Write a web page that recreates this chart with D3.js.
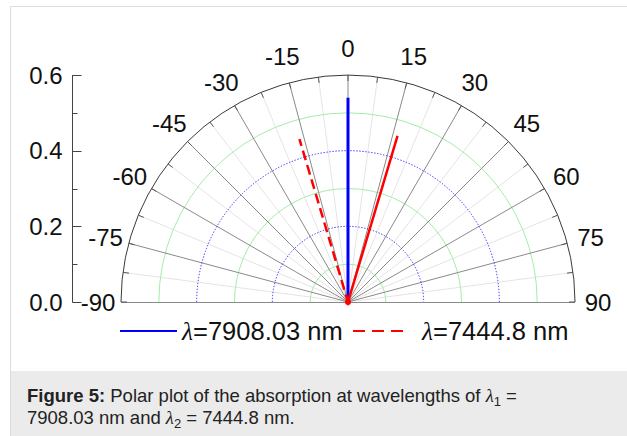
<!DOCTYPE html>
<html><head><meta charset="utf-8">
<script src="https://cdn.jsdelivr.net/npm/d3@7"></script>
<style>
html,body{margin:0;padding:0;background:#fff;}
svg{display:block;}
</style></head>
<body>
<svg id="chart" width="627" height="436"></svg>
<script>
// ---- data ----
const angleTicks = [-90,-75,-60,-45,-30,-15,0,15,30,45,60,75,90];
const minorAngles = [-82.5,-67.5,-52.5,-37.5,-22.5,-7.5,7.5,22.5,37.5,52.5,67.5,82.5];
const radialTicks = [0.0,0.2,0.4,0.6];
const radialMinor = [0.1,0.3,0.5];
const radialMajorGrid = [0.2,0.4];
const blueAngles = [0, 0];
const blueValues = [0, 0.54];
const redAngles = [-16.6, 0, 16.6, 15.9];
const redValues = [0.449, 0, 0.458, 0];
const legendLabels = ["7908.03 nm", "7444.8 nm"];
const captionBold = "Figure 5:";
const captionLine1 = " Polar plot of the absorption at wavelengths of ";
const captionLine2a = "7908.03 nm and ";
const captionLine2b = " = 7444.8 nm.";

const svg = d3.select("#chart");
const W = 627, H = 436;
const cx = 348, cy = 302, R = 227;
const font = "'Liberation Sans', Arial, Helvetica, sans-serif";
const serif = "'Liberation Serif', 'Times New Roman', serif";

// frame
svg.append("rect").attr("x",0).attr("y",0).attr("width",W).attr("height",H).attr("fill","#fff");
svg.append("rect").attr("x",10.5).attr("y",6.5).attr("width",W).attr("height",H).attr("fill","#fff").attr("stroke","#dcdcdc");
svg.append("rect").attr("x",11).attr("y",371).attr("width",W-11).attr("height",H-371).attr("fill","#ebebeb");

const r = d3.scaleLinear().domain([0,0.6]).range([0,R]);
const a = d3.scaleLinear().domain([-90,90]).range([-Math.PI/2, Math.PI/2]);
const g = svg.append("g").attr("transform",`translate(${cx},${cy})`);

const halfCircle = rr => `M${-rr},0A${rr},${rr} 0 0 1 ${rr},0`;

// minor radial lines
g.selectAll(".minr").data(minorAngles).join("line")
  .attr("x1",0).attr("y1",0)
  .attr("x2",d=>r(0.6)*Math.sin(a(d))).attr("y2",d=>-r(0.6)*Math.cos(a(d)))
  .attr("stroke","#e4e4e4").attr("stroke-width",1);
// green minor circles
g.selectAll(".gc").data(radialMinor).join("path")
  .attr("d",d=>halfCircle(r(d)))
  .attr("fill","none").attr("stroke","#a6eca6").attr("stroke-width",1);
// major radial lines
g.selectAll(".majr").data(angleTicks.filter(d=>Math.abs(d)<90)).join("line")
  .attr("x1",0).attr("y1",0)
  .attr("x2",d=>r(0.6)*Math.sin(a(d))).attr("y2",d=>-r(0.6)*Math.cos(a(d)))
  .attr("stroke","#8a8a8a").attr("stroke-width",1);
// blue dotted circles
g.selectAll(".bc").data(radialMajorGrid).join("path")
  .attr("d",d=>halfCircle(r(d)))
  .attr("fill","none").attr("stroke","#2a2aff").attr("stroke-width",1).attr("stroke-dasharray","1.3,1.7");
// baseline
g.append("line").attr("x1",-r(0.6)).attr("x2",r(0.6)).attr("y1",0.5).attr("y2",0.5)
  .attr("stroke","#8a8a8a").attr("stroke-width",1.2);
// outer arc
g.append("path").attr("d",halfCircle(R))
  .attr("fill","none").attr("stroke","#3a3a3a").attr("stroke-width",1);
// outer ticks
g.selectAll(".otk").data(minorAngles.concat(angleTicks)).join("line")
  .attr("x1",d=>(R-6)*Math.sin(a(d))).attr("y1",d=>-(R-6)*Math.cos(a(d)))
  .attr("x2",d=>R*Math.sin(a(d))).attr("y2",d=>-R*Math.cos(a(d)))
  .attr("stroke","#555").attr("stroke-width",1);

// angle labels
const labR = d => 250 + 4*Math.abs(Math.cos(a(d)));
g.selectAll(".al").data(angleTicks).join("text")
  .attr("x",d=>labR(d)*Math.sin(a(d))).attr("y",d=>-labR(d)*Math.cos(a(d)))
  .attr("text-anchor","middle").attr("dy","0.36em")
  .attr("font-family",font).attr("font-size",24).attr("fill","#111")
  .text(d=>d);

// radial y axis on left
const yScale = d3.scaleLinear().domain([0,0.6]).range([cy, cy-R]);
const yAxisG = svg.append("g").attr("transform","translate(72.5,0)");
yAxisG.append("line").attr("x1",0).attr("x2",0).attr("y1",yScale(0)+0.5).attr("y2",yScale(0.6)).attr("stroke","#444");
yAxisG.selectAll(".yt").data(radialTicks).join("line")
  .attr("x1",0).attr("x2",9).attr("y1",d=>Math.round(yScale(d))+0.5).attr("y2",d=>Math.round(yScale(d))+0.5).attr("stroke","#444");
yAxisG.selectAll(".ytm").data(radialMinor).join("line")
  .attr("x1",0).attr("x2",5).attr("y1",d=>Math.round(yScale(d))+0.5).attr("y2",d=>Math.round(yScale(d))+0.5).attr("stroke","#444");
yAxisG.selectAll(".yl").data(radialTicks).join("text")
  .attr("x",-10).attr("y",d=>yScale(d)).attr("dy","0.36em").attr("text-anchor","end")
  .attr("font-family",font).attr("font-size",24).attr("fill","#111")
  .text(d=>d.toFixed(1));

// series
const line = d3.lineRadial().angle(d=>a(d[0])).radius(d=>r(d[1]));
g.append("path").datum(blueAngles.map((d,i)=>[d,blueValues[i]]))
  .attr("d",line).attr("fill","none").attr("stroke","#0000ff").attr("stroke-width",3);
// dash phase chosen so the out-and-back pass on the right overlaps into a solid stroke
const dashPeriod = 15, Lsum = r(redValues[0]) + r(redValues[2]);
const dashOff = ((((2.5 - 2*Lsum) % dashPeriod) + dashPeriod) % dashPeriod) / 2;
g.append("path").datum(redAngles.map((d,i)=>[d,redValues[i]]))
  .attr("d",line).attr("fill","none").attr("stroke","#ff0000").attr("stroke-width",2.5)
  .attr("stroke-dasharray","10,5").attr("stroke-dashoffset",dashOff).attr("stroke-linejoin","miter");
g.append("circle").attr("r",3).attr("cx",0).attr("cy",0).attr("fill","#ff0000");

// legend
const ly = 331;
svg.append("line").attr("x1",120).attr("x2",177).attr("y1",ly).attr("y2",ly).attr("stroke","#0000ff").attr("stroke-width",2);
svg.append("line").attr("x1",353).attr("x2",403).attr("y1",ly).attr("y2",ly).attr("stroke","#ff0000").attr("stroke-width",2).attr("stroke-dasharray","12,7");
const lx = [182, 422];
legendLabels.forEach((t,i)=>{
  const tx = svg.append("text").attr("x",lx[i]).attr("y",340).attr("font-family",font).attr("font-size",25.5).attr("fill","#111");
  tx.append("tspan").attr("font-style","italic").attr("font-family",serif).text("λ");
  tx.append("tspan").text("=" + t);
});

// caption
const c1 = svg.append("text").attr("x",27).attr("y",402).attr("font-family",font).attr("font-size",18.5).attr("fill","#222");
c1.append("tspan").attr("font-weight","bold").text(captionBold);
c1.append("tspan").text(captionLine1);
c1.append("tspan").attr("font-style","italic").attr("font-family",serif).text("λ");
c1.append("tspan").attr("font-size",13).attr("dy",4).text("1");
c1.append("tspan").attr("dy",-4).text(" =");
const c2 = svg.append("text").attr("x",27).attr("y",424).attr("font-family",font).attr("font-size",18.5).attr("fill","#222");
c2.append("tspan").text(captionLine2a);
c2.append("tspan").attr("font-style","italic").attr("font-family",serif).text("λ");
c2.append("tspan").attr("font-size",13).attr("dy",4).text("2");
c2.append("tspan").attr("dy",-4).text(captionLine2b);
</script>
</body></html>
